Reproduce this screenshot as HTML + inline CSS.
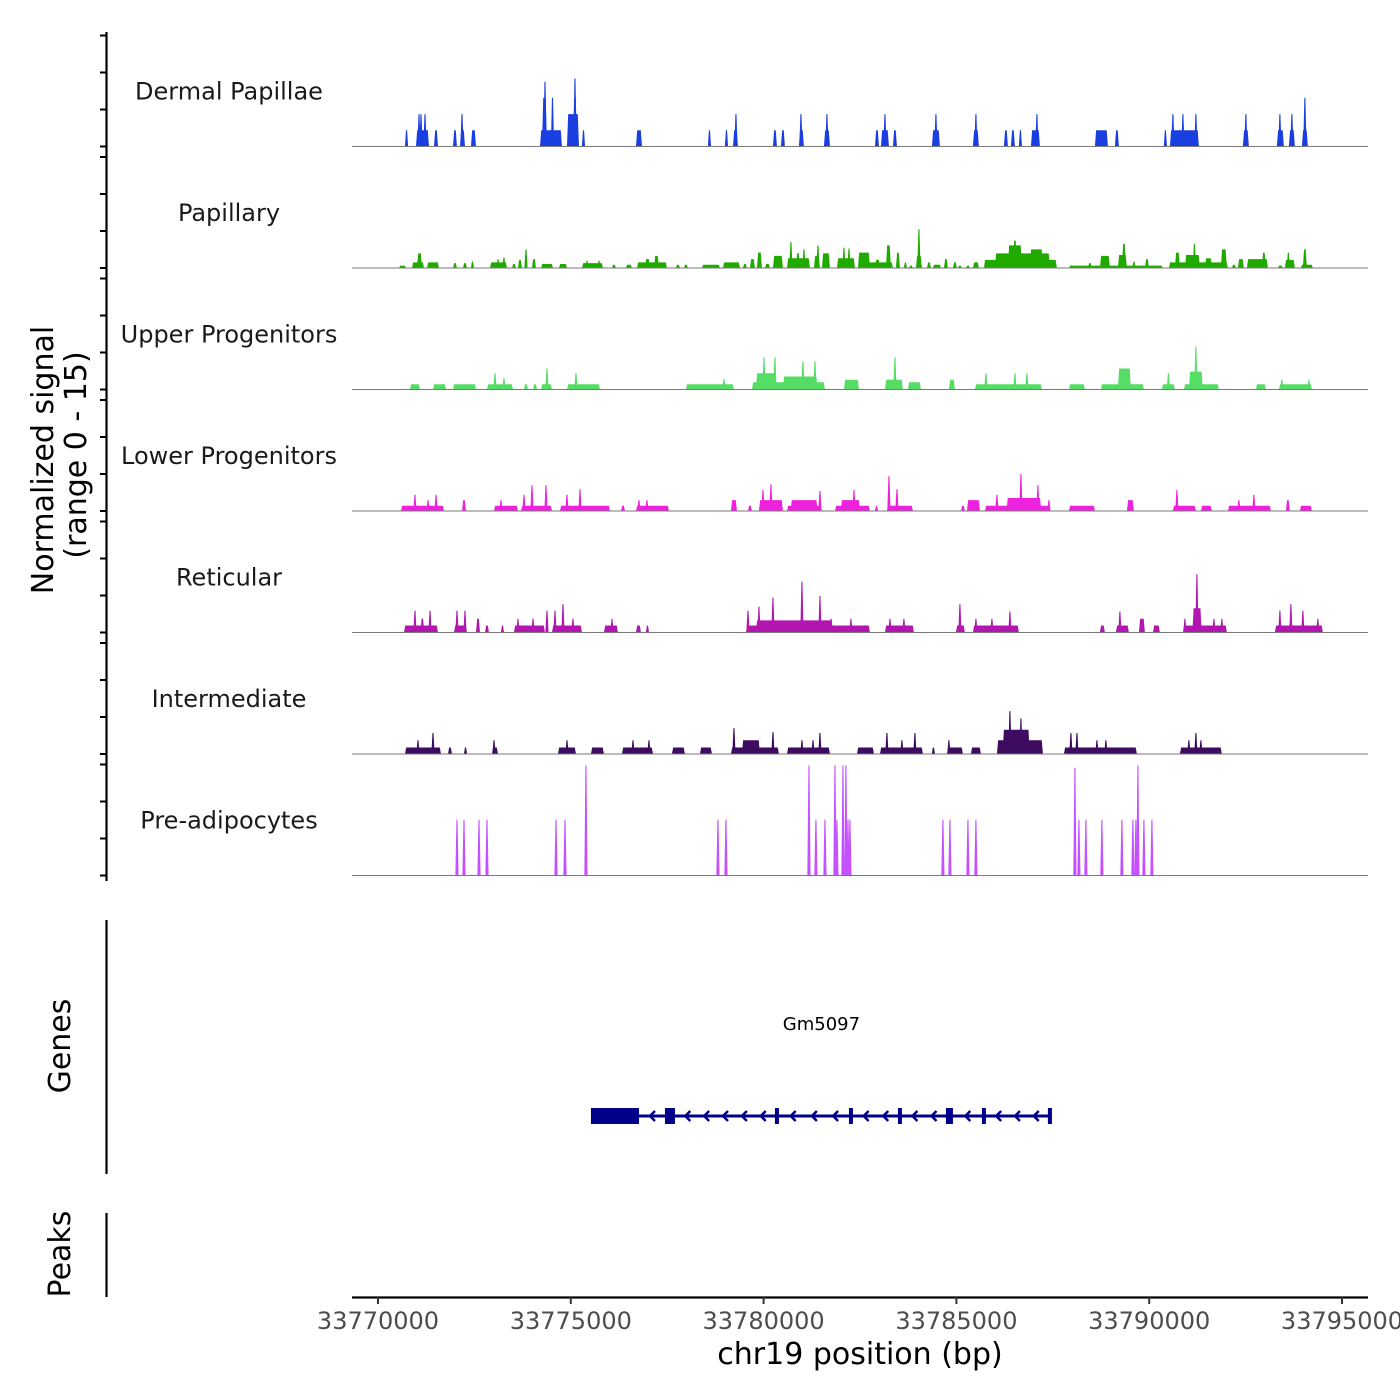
<!DOCTYPE html>
<html><head><meta charset="utf-8"><title>Coverage plot chr19</title>
<style>
html,body{margin:0;padding:0;background:#fff;}
svg{display:block;font-family:"DejaVu Sans","Liberation Sans",sans-serif;}
</style></head>
<body>
<svg id="chart" width="1400" height="1400" viewBox="0 0 1400 1400" xmlns="http://www.w3.org/2000/svg">
  <rect x="0" y="0" width="1400" height="1400" fill="#fff"/>
  <g id="tracks"></g>
  <g id="genes"></g>
  <g id="axes"></g>
</svg>
<script>
// ---- chart data ----
const regionStart = 33770000;
const regionEnd = 33795000;
const xTickValues = [33770000, 33775000, 33780000, 33785000, 33790000, 33795000];
const xTickLabels = ["33770000", "33775000", "33780000", "33785000", "33790000", "33795000"];
const trackNames = ["Dermal Papillae", "Papillary", "Upper Progenitors", "Lower Progenitors", "Reticular", "Intermediate", "Pre-adipocytes"];
const trackColors = ["#1a3fe0", "#20aa00", "#55dd66", "#ee22dd", "#b316b0", "#3d0b60", "#c450ff"];
const signalMax = 15;
// each segment: [startOffsetBp, endOffsetBp, normalized signal]
const dermalPapillae = [
 [700,780,2],[985,1322,2],[1043,1083,4],[1095,1135,4],[1199,1239,4],[1452,1556,2],[1945,2048,2],[2126,2256,2],[2158,2198,4],[2411,2541,2],
 [4201,4771,2],[4253,4382,6],[4310,4350,8],[4486,4564,6],[4901,5212,4],[5056,5160,6],[5088,5128,8.4],[5290,5368,2],[6690,6846,2],
 [8557,8635,2],[8998,9076,2],[9206,9335,2],[9263,9303,4],[10242,10346,2],[10450,10553,2],[10916,11046,2],[10948,10988,4],[11565,11721,2],[11623,11663,4],
 [12888,12992,2],[13043,13250,2],[13127,13167,4],[13354,13458,2],[14365,14573,2],[14429,14509,4],[15428,15584,2],[15486,15526,4],
 [16232,16336,2],[16414,16518,2],[16621,16699,2],[16933,17166,2],[17068,17108,4],[18592,18929,2],[19110,19214,2],[20381,20459,2],
 [20537,21289,2],[20594,20634,4],[20848,20900,4],[21191,21231,4],[22429,22585,2],[22487,22527,4],[23311,23493,2],[23349,23429,4],
 [23622,23778,2],[23680,23720,4],[23960,24115,2],[24017,24057,6]
];
const papillary = [
 [545,726,0.3],[882,1193,0.7],[1011,1141,1.8],[1271,1582,0.7],[1945,2048,0.6],[2204,2308,0.6],[2411,2489,0.8],[2904,3345,0.7],[3086,3137,1.1],[3241,3293,1.3],
 [3475,3578,0.5],[3630,3734,1.0],[3812,3864,2.3],[3993,4097,1.1],[4227,4538,0.5],[4693,4901,0.5],[5290,5834,0.6],[5393,5445,0.9],[5705,5757,0.9],
 [6068,6171,0.4],[6431,6586,0.4],[6716,7494,0.7],[6923,7053,1.1],[7157,7286,1.5],[7727,7831,0.4],[7935,8038,0.4],[8401,8868,0.4],[8946,9387,0.7],
 [9465,9568,0.5],[9646,9775,1.1],[9827,9957,1.9],[10035,10165,0.5],[10242,10502,1.5],[10606,11202,1.2],[10683,10735,3.2],[10838,10942,1.8],[11020,11072,2.3],
 [11306,11461,1.5],[11383,11435,2.8],[11513,11721,1.8],[11902,12369,1.2],[12058,12110,2.5],[12188,12239,2.4],[12447,12758,1.9],[12498,13354,0.7],
 [12888,13017,1.0],[13173,13302,2.8],[13432,13536,1.9],[13639,13717,0.7],[13769,13872,0.3],[13950,14106,1.5],[14002,14054,4.8],[14236,14339,0.7],
 [14391,14599,0.4],[14676,14780,1.1],[14910,15013,0.7],[15039,15143,0.3],[15247,15350,0.3],[15428,15584,0.7],[15713,17606,1.0],[15999,17425,1.8],
 [16336,16699,2.8],[16466,16569,3.4],[16906,17243,2.3],[17918,20355,0.3],[18410,18514,0.6],[18721,18981,1.5],[19188,19422,1.6],[19292,19396,3.0],
 [19577,19630,0.8],[19889,19993,1.1],[20511,22041,0.7],[20666,20796,1.9],[20926,21315,1.6],[21133,21211,3.0],[21444,21625,1.2],[21859,22014,2.3],
 [22144,22248,0.4],[22300,22455,1.1],[22533,23078,1.1],[22922,23026,1.9],[23338,23467,0.3],[23519,23778,1.0],[23571,23648,1.9],[23933,24245,0.4],[23985,24089,2.3]
];
const upperProgenitors = [
 [830,1089,0.65],[1426,1763,0.65],[1945,2541,0.65],[2826,3501,0.65],[2994,3074,2],[3227,3307,1.4],[3786,3890,0.65],[4019,4123,0.65],[4227,4512,0.65],[4342,4422,2.6],
 [4901,5756,0.65],[5094,5174,2],[7986,9231,0.65],[8932,9012,1.3],[9698,11591,0.9],[9800,10300,2.0],[10500,11400,1.6],[9969,10049,4],[10254,10334,4],[10980,11060,3.5],[11292,11372,3.5],
 [12084,12473,1.2],[13147,13613,1.2],[13366,13446,4],[13743,14080,0.9],[14806,14962,1.2],[15480,17217,0.65],[15725,15805,2],[16478,16558,2],[16789,16869,2],
 [17918,18333,0.65],[18747,19862,0.65],[19188,19526,2.6],[20329,20666,0.65],[20458,20538,2],[20900,21807,0.65],[21030,21390,2.2],[21171,21251,5.3],
 [22766,23026,0.65],[23363,24219,0.65],[23401,23481,1.2],[24101,24181,1.2]
];
const lowerProgenitors = [
 [596,1711,0.65],[919,999,2],[1257,1337,1.35],[1464,1544,2],[2178,2282,1.35],[3008,3630,0.65],[3149,3229,1.35],[3708,4512,0.65],[3746,3826,2],[3953,4033,3.2],[4316,4396,3.2],
 [4719,6016,0.65],[4861,4941,2],[5198,5278,2.7],[6301,6405,0.65],[6690,7546,0.65],[6728,6808,1.35],[6935,7015,1.35],[9153,9309,1.35],[9594,9698,0.65],
 [9879,10502,1.35],[9943,10023,2.6],[10151,10231,3.3],[10606,11513,0.65],[10700,11400,1.35],[11421,11501,2.5],[11850,12758,0.65],[12000,12500,1.35],[12303,12383,2.6],
 [12888,12966,0.65],[13198,13873,0.65],[13210,13290,4.3],[13418,13498,2.7],[15117,15221,0.65],[15273,15610,1.35],[15740,17425,0.65],[16011,16091,2],
 [16300,17200,1.6],[16633,16713,4.6],[17074,17154,3.2],[17359,17439,1.35],[17918,18592,0.65],[19422,19603,1.35],[20614,21211,0.65],[20678,20758,2.6],
 [21341,21626,0.65],[22041,23156,0.65],[22286,22366,1.35],[22675,22755,2],[23545,23648,1.35],[23908,24219,0.65]
];
const reticular = [
 [674,1556,0.86],[919,999,2.7],[1308,1388,2.7],[1100,1200,1.7],[1971,2308,0.86],[2008,2088,2.7],[2216,2296,2.7],[2541,2645,1.7],[2775,2878,0.86],[3189,3267,0.86],
 [3526,4330,0.86],[3590,3670,1.7],[3979,4059,1.7],[4342,4422,2.7],[4512,5290,0.86],[4550,4630,2.7],[4757,4837,3.5],[5016,5096,1.7],[5860,6223,0.86],[6028,6108,1.7],
 [6690,6820,0.86],[6949,7027,0.86],[9542,12758,0.86],[9554,9634,2.7],[9839,9919,3.2],[10202,10282,4.3],[9800,11800,1.5],[10954,11034,6.3],[11421,11501,4.5],
 [11707,11787,1.7],[12225,12305,1.7],[13147,13899,0.86],[13237,13317,1.7],[13599,13679,1.7],[14988,15221,0.86],[15051,15131,3.5],[15428,16621,0.86],
 [15466,15546,1.7],[15881,15961,1.7],[16348,16428,2.6],[18721,18851,0.86],[19136,19473,0.86],[19200,19280,2.6],[19733,19889,1.7],[20096,20277,0.86],
 [20874,22015,0.86],[20886,20966,1.7],[21197,21277,7.2],[21120,21360,3.0],[21638,21718,1.7],[21845,21925,1.7],[23259,24504,0.86],[23349,23429,2.7],
 [23634,23714,3.5],[23945,24025,2.7],[24334,24414,1.7]
];
const intermediate = [
 [700,1634,0.8],[997,1077,1.7],[1386,1466,2.6],[1815,1919,0.8],[2230,2308,0.8],[2956,3112,0.8],[2968,3048,1.7],[4667,5134,0.8],[4861,4941,1.7],[5523,5860,0.8],
 [6327,7131,0.8],[6572,6652,1.7],[6987,7067,1.7],[7623,7960,0.8],[8349,8660,0.8],[9153,10398,0.8],[9191,9271,3.2],[9438,9905,1.7],[10202,10282,2.7],
 [10606,11721,0.8],[10954,11034,1.7],[11240,11320,1.7],[11421,11501,2.6],[12421,12862,0.8],[13017,14132,0.8],[13158,13238,2.6],[13547,13627,1.7],[13884,13964,2.6],
 [14365,14443,0.8],[14754,15169,0.8],[14766,14846,1.7],[15376,15636,0.8],[16051,17244,1.7],[16200,16900,3.0],[16348,16428,5.3],[16633,16713,4.4],[17126,17206,1.7],
 [17788,19681,0.8],[17930,18010,2.6],[18086,18166,2.6],[18604,18684,1.7],[18837,18917,1.7],[20796,21885,0.8],[20989,21069,1.7],[21171,21251,2.6],[21301,21381,1.7]
];
const preAdipocytes = [
 [2018,2078,6.9],[2200,2260,6.9],[2589,2649,6.9],[2796,2856,6.9],[4586,4646,6.9],[4819,4879,6.9],[5363,5423,13.6],[8786,8846,6.9],[8994,9054,6.9],
 [11146,11206,13.6],[11327,11387,6.9],[11561,11621,6.9],[11820,11880,13.6],[11872,11932,6.9],[12028,12088,13.6],[12105,12165,13.6],[12158,12218,6.9],[12209,12269,6.9],
 [14620,14680,6.9],[14802,14862,6.9],[15269,15329,6.9],[15476,15536,6.9],[18043,18103,13.3],[18147,18207,6.9],[18328,18388,6.9],[18743,18803,6.9],
 [19262,19322,6.9],[19547,19607,6.9],[19625,19685,6.9],[19677,19737,13.6],[19833,19893,6.9],[20040,20100,6.9]
];
const trackData = [dermalPapillae, papillary, upperProgenitors, lowerProgenitors, reticular, intermediate, preAdipocytes];
const geneName = "Gm5097";
const geneStart = 5523;
const geneEnd = 17477;
const geneExons = [[5523,6768],[7442,7701],[10294,10398],[12213,12317],[13484,13587],[14728,14910],[15662,15765],[17373,17477]];

// ---- layout ----
const NS = "http://www.w3.org/2000/svg";
const plotLeft = 352, plotRight = 1368;
const xPx0 = 378, xPx1 = 1342;
const trackTop = 25, trackH = 121.5;
function xScale(bp){ return xPx0 + (bp - regionStart) / (regionEnd - regionStart) * (xPx1 - xPx0); }
function xOff(off){ return xScale(regionStart + off); }
function yScale(v, i){ const base = trackTop + trackH*(i+1); return base - v / signalMax * trackH; }
function mk(tag, attrs, parent){ const e = document.createElementNS(NS, tag); for (const k in attrs) e.setAttribute(k, attrs[k]); parent.appendChild(e); return e; }

const gTracks = document.getElementById('tracks');
trackData.forEach((segs, i) => {
  const g = mk('g', {}, gTracks);
  
  
  const base = yScale(0, i);
  const lbl = mk('text', {x: 229, y: base - 47, 'text-anchor': 'middle', 'font-size': 24, fill: '#1a1a1a'}, g);
  lbl.textContent = trackNames[i];
  
  
  segs.forEach(s => {
    let x1 = xOff(s[0]), x2 = xOff(s[1]);
    if (x2 - x1 < 3.2) { const c = (x1 + x2) / 2; x1 = c - 1.6; x2 = c + 1.6; }
    const top = yScale(s[2], i);
    const taper = Math.min(1.2, (x2 - x1) / 3);
    const p = mk('polygon', {points: `${x1},${base} ${x1+taper},${top} ${x2-taper},${top} ${x2},${base}`, fill: trackColors[i]}, g);
    
    
  });
  const bl = mk('line', {x1: plotLeft, x2: plotRight, y1: base, y2: base, stroke: '#7a7a7a', 'stroke-width': 1}, g);
  
  
});

// ---- gene track ----
const gGenes = document.getElementById('genes');
const gy = 1116;
const gl = mk('line', {x1: xOff(geneStart), x2: xOff(geneEnd), y1: gy, y2: gy, stroke: '#00008b', 'stroke-width': 3}, gGenes);


geneExons.forEach((e, k) => {
  const x1 = xOff(e[0]), x2 = xOff(e[1]);
  const r = mk('rect', {x: x1, y: gy - 8, width: Math.max(2.5, x2 - x1), height: 16, fill: '#00008b'}, gGenes);
  
  
});
for (let k = 0; k < geneExons.length - 1; k++) {
  const a = xOff(geneExons[k][1]), b = xOff(geneExons[k+1][0]);
  const n = Math.max(1, Math.floor((b - a) / 18));
  const step = (b - a) / (n + 0.3);
  for (let j = 0; j < n; j++) {
    const cx = a + step * (j + 0.6);
    const ar = mk('polyline', {points: `${cx+4},${gy-5} ${cx-1},${gy} ${cx+4},${gy+5}`, fill: 'none', stroke: '#00008b', 'stroke-width': 2.5}, gGenes);
    
    
  }
}
const gt = mk('text', {x: xOff((geneStart + geneEnd) / 2), y: 1030, 'text-anchor': 'middle', 'font-size': 18, fill: '#000'}, gGenes);
gt.textContent = geneName;



// ---- axes ----
const gAxes = document.getElementById('axes');
const la = mk('line', {x1: 106.5, x2: 106.5, y1: 32, y2: 881, stroke: '#000', 'stroke-width': 2.2}, gAxes);


for (let i = 0; i < trackNames.length; i++) {
  const base = trackTop + trackH*(i+1);
  [0, 37, 74, 111].forEach(d => {
    const y = base - d;
    const t = mk('line', {x1: 100, x2: 106, y1: y, y2: y, stroke: '#000', 'stroke-width': 2}, gAxes);
    
    
  });
}
const ga = mk('line', {x1: 106.5, x2: 106.5, y1: 920, y2: 1174, stroke: '#000', 'stroke-width': 2.2}, gAxes);


const pa = mk('line', {x1: 106.5, x2: 106.5, y1: 1213, y2: 1297, stroke: '#000', 'stroke-width': 2.2}, gAxes);



const yt1 = mk('text', {x: 0, y: 0, 'text-anchor': 'middle', 'font-size': 30, fill: '#000', transform: 'translate(53,460) rotate(-90)'}, gAxes);
yt1.textContent = 'Normalized signal';


const yt2 = mk('text', {x: 0, y: 0, 'text-anchor': 'middle', 'font-size': 30, fill: '#000', transform: 'translate(86,455) rotate(-90)'}, gAxes);
yt2.textContent = '(range 0 - 15)';


const gTitle = mk('text', {x: 0, y: 0, 'text-anchor': 'middle', 'font-size': 30, fill: '#000', transform: 'translate(70,1046) rotate(-90)'}, gAxes);
gTitle.textContent = 'Genes';


const pTitle = mk('text', {x: 0, y: 0, 'text-anchor': 'middle', 'font-size': 30, fill: '#000', transform: 'translate(70,1254) rotate(-90)'}, gAxes);
pTitle.textContent = 'Peaks';



const xa = mk('line', {x1: plotLeft, x2: plotRight, y1: 1297.5, y2: 1297.5, stroke: '#000', 'stroke-width': 2.2}, gAxes);


xTickValues.forEach((v, k) => {
  const x = xScale(v);
  const t = mk('line', {x1: x, x2: x, y1: 1297, y2: 1304, stroke: '#333', 'stroke-width': 2}, gAxes);
  
  
  const l = mk('text', {x: x, y: 1329, 'text-anchor': 'middle', 'font-size': 24, fill: '#4d4d4d'}, gAxes);
  l.textContent = xTickLabels[k];
  
  
});
const xt = mk('text', {x: 860, y: 1364, 'text-anchor': 'middle', 'font-size': 30, fill: '#000'}, gAxes);
xt.textContent = 'chr19 position (bp)';


</script>
</body></html>
